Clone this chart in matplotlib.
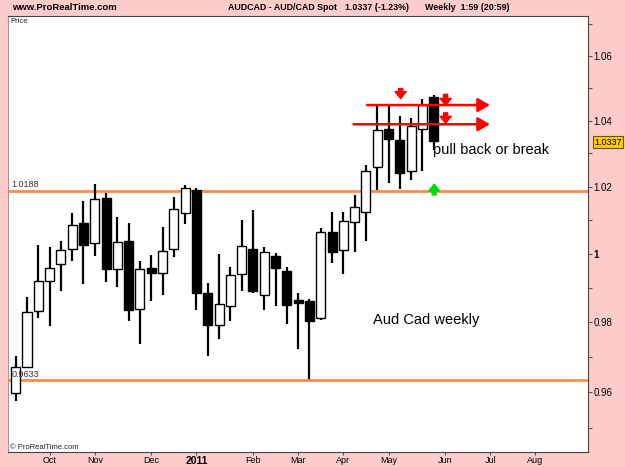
import matplotlib
matplotlib.use('Agg')
import matplotlib.pyplot as plt
from matplotlib.ticker import NullFormatter
import numpy as np

plt.rcParams['font.family'] = ['Liberation Sans', 'DejaVu Sans']

# weekly AUD/CAD candles, Sep 2010 - May 2011 (log price axis)
opens = [0.9597, 0.9671, 0.9832, 0.9920, 0.9969, 1.0013, 1.0090, 1.0031, 1.0165, 0.9955,
         1.0037, 0.9838, 0.9958, 0.9942, 1.0013, 1.0121, 1.0190, 0.9884, 0.9791, 0.9848,
         0.9940, 1.0014, 0.9878, 0.9993, 0.9950, 0.9864, 0.9860, 0.9812, 1.0065, 1.0010,
         1.0093, 1.0123, 1.0258, 1.0375, 1.0340, 1.0248, 1.0375, 1.0472]
highs = [0.9703, 0.9872, 1.0026, 1.0019, 1.0038, 1.0120, 1.0157, 1.0207, 1.0182, 1.0108,
         1.0090, 0.9977, 0.9995, 1.0080, 1.0170, 1.0204, 1.0195, 0.9913, 0.9998, 0.9960,
         1.0100, 1.0129, 1.0019, 1.0003, 0.9960, 0.9884, 0.9866, 1.0077, 1.0123, 1.0124,
         1.0175, 1.0264, 1.0449, 1.0447, 1.0415, 1.0407, 1.0468, 1.0480]
lows = [0.9576, 0.9669, 0.9812, 0.9789, 0.9891, 0.9979, 0.9911, 0.9993, 0.9918, 0.9903,
        0.9804, 0.9738, 0.9860, 0.9879, 0.9989, 1.0088, 0.9836, 0.9704, 0.9751, 0.9804,
        0.9891, 0.9884, 0.9836, 0.9848, 0.9795, 0.9723, 0.9636, 0.9806, 0.9974, 0.9941,
        1.0004, 1.0038, 1.0191, 1.0212, 1.0193, 1.0220, 1.0248, 1.0309]
closes = [0.9670, 0.9830, 0.9920, 0.9958, 1.0011, 1.0084, 1.0027, 1.0164, 0.9955, 1.0035,
          0.9836, 0.9955, 0.9944, 1.0009, 1.0132, 1.0196, 0.9884, 0.9791, 0.9854, 0.9938,
          1.0023, 0.9890, 1.0005, 0.9958, 0.9850, 0.9856, 0.9804, 1.0064, 1.0006, 1.0097,
          1.0140, 1.0248, 1.0372, 1.0343, 1.0240, 1.0385, 1.0449, 1.0337]

month_pos = [3, 7, 12, 16, 21, 25, 29, 33, 38, 42, 46]
month_labels = ['Oct', 'Nov', 'Dec', '2011', 'Feb', 'Mar', 'Apr', 'May', 'Jun', 'Jul', 'Aug']

support_levels = [1.0188, 0.9633]
# red resistance arrows: (x start, x end, level)
resist_lines = [(31.1, 41.97, 1.0448), (29.9, 41.97, 1.0389)]
down_arrows = [(34.07, 1.0499, 1.0468), (38.05, 1.0481, 1.0447), (38.05, 1.0424, 1.0392)]
up_arrows = [(37.04, 1.0175, 1.0207)]

PINK = '#ffcccc'
ORANGE = '#ff8c4a'

fig = plt.figure(figsize=(6.25, 4.67), dpi=100, facecolor=PINK)
ax = fig.add_axes([8 / 625, 1 - 452 / 467, 580 / 625, 436 / 467])
ax.set_facecolor('white')
ax.set_yscale('log')

x = np.arange(len(opens))
o = np.array(opens)
c = np.array(closes)
up = c >= o

ax.vlines(x, lows, highs, color='black', lw=1.6, zorder=2)
body_lo = np.minimum(o, c)
body_h = np.maximum(np.abs(c - o), 0.0008)
ax.bar(x, body_h, bottom=body_lo, width=0.8,
       color=np.where(up, 'white', 'black'), edgecolor='black', lw=1.0, zorder=3)

for lvl in support_levels:
    ax.axhline(lvl, color=ORANGE, lw=2, zorder=1)
    ax.text(-0.35, lvl * 1.0004, f'{lvl:.4f}', fontsize=6.5, color='#333333',
            ha='left', va='bottom', zorder=4)

for x0, x1, lvl in resist_lines:
    ax.annotate('', xy=(x1, lvl), xytext=(x0, lvl),
                arrowprops=dict(arrowstyle='-|>,head_length=0.6,head_width=0.35',
                                color='red', lw=1.8, mutation_scale=12, shrinkA=0, shrinkB=0),
                zorder=5)

for xa, y0, y1 in down_arrows:
    ax.annotate('', xy=(xa, y1), xytext=(xa, y0),
                arrowprops=dict(arrowstyle='simple,head_width=0.8,head_length=0.5,tail_width=0.3',
                                color='red', mutation_scale=10, shrinkA=0, shrinkB=0), zorder=5)
for xa, y0, y1 in up_arrows:
    ax.annotate('', xy=(xa, y1), xytext=(xa, y0),
                arrowprops=dict(arrowstyle='simple,head_width=0.8,head_length=0.5,tail_width=0.3',
                                color='#00dd00', mutation_scale=10, shrinkA=0, shrinkB=0), zorder=5)

ax.text(36.9, 1.0310, 'pull back or break', fontsize=10.5, color='black', ha='left', va='center', zorder=6)
ax.text(31.6, 0.9805, 'Aud Cad weekly', fontsize=10.5, color='black', ha='left', va='center', zorder=6)

ax.set_xlim(-0.68, 50.65)
ax.set_ylim(0.9432, 1.0726)

ax.set_xticks(month_pos)
ax.set_xticklabels(month_labels, fontsize=6.5)
for lbl in ax.get_xticklabels():
    if lbl.get_text() == '2011':
        lbl.set_fontweight('bold')
        lbl.set_fontsize(7.5)
ax.tick_params(axis='x', direction='out', length=2.5, width=0.8, pad=0.5, color='#555555')

ax.yaxis.tick_right()
ax.set_yticks([0.96, 0.98, 1.0, 1.02, 1.04, 1.06])
ax.set_yticklabels(['0.96', '0.98', '1', '1.02', '1.04', '1.06'], fontsize=7)
for lbl in ax.get_yticklabels():
    if lbl.get_text() == '1':
        lbl.set_fontweight('bold')
ax.set_yticks([0.95, 0.97, 0.99, 1.01, 1.03, 1.05, 1.07], minor=True)
ax.yaxis.set_minor_formatter(NullFormatter())
ax.tick_params(axis='y', which='major', direction='out', length=3, width=0.8, pad=1, color='#555555')
ax.tick_params(axis='y', which='minor', direction='out', length=3, width=0.8, color='#555555')

for sp in ax.spines.values():
    sp.set_color('#444444')
    sp.set_linewidth(0.8)
ax.spines['left'].set_color('#999999')

ax.text(0.004, 0.995, 'Price', transform=ax.transAxes, fontsize=5.5, ha='left', va='top', color='#222222')
ax.text(0.004, 0.003, '\u00a9 ProRealTime.com', transform=ax.transAxes, fontsize=5.5, ha='left', va='bottom',
        color='#222222')

hy = 1 - 8 / 467
fig.text(12 / 625, hy, 'www.ProRealTime.com', fontsize=6.8, fontweight='bold', ha='left', va='center')
fig.text(228 / 625, hy, 'AUDCAD - AUD/CAD Spot', fontsize=6.4, fontweight='bold', ha='left', va='center')
fig.text(345 / 625, hy, '1.0337 (-1.23%)', fontsize=6.4, fontweight='bold', ha='left', va='center')
fig.text(425 / 625, hy, 'Weekly  1:59 (20:59)', fontsize=6.4, fontweight='bold', ha='left', va='center')
fig.text(594 / 625, 1 - 142 / 467, f'{closes[-1]:.4f}', fontsize=6.5, ha='left', va='center',
         bbox=dict(boxstyle='square,pad=0.15', facecolor='#ffcc00', edgecolor='#665500', lw=0.8))

fig.savefig('out.png', dpi=100, facecolor=PINK)
